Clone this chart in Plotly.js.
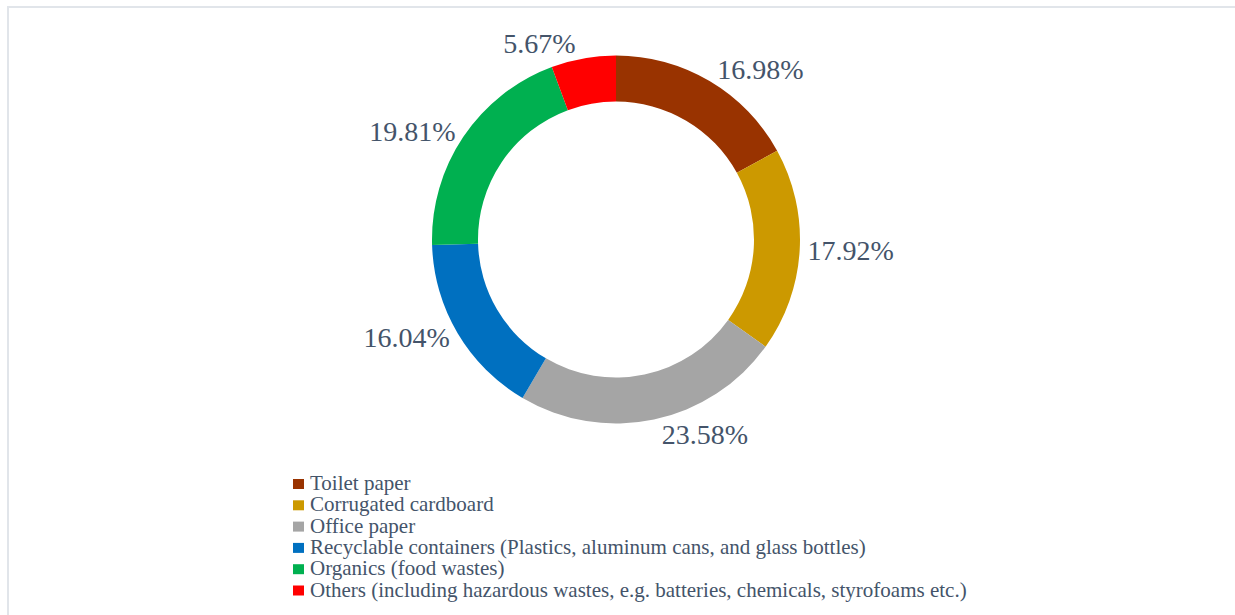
<!DOCTYPE html>
<html><head><meta charset="utf-8">
<script src="https://cdn.plot.ly/plotly-3.0.1.min.js"></script>
<style>
html,body{margin:0;padding:0;background:#fff;}
#chart{position:absolute;left:0;top:0;width:1235px;height:615px;}
#frame{position:absolute;left:7px;top:6px;width:1228px;height:609px;border-top:2px solid #E1E5EA;border-left:2px solid #E1E5EA;pointer-events:none;z-index:5;}
</style></head>
<body>
<div id="chart"></div><div id="frame"></div>
<script>
const categories = [
  "Toilet paper",
  "Corrugated cardboard",
  "Office paper",
  "Recyclable containers (Plastics, aluminum cans, and glass bottles)",
  "Organics (food wastes)",
  "Others (including hazardous wastes, e.g. batteries, chemicals, styrofoams etc.)"
];
const shares = [16.98, 17.92, 23.58, 16.04, 19.81, 5.67];
const sliceColors = ["#993300", "#CC9900", "#A5A5A5", "#0070C0", "#00B050", "#FF0000"];

const W = 1235, H = 615;
const FONT = '"Liberation Serif", "Times New Roman", serif';
const TXT = '#44546A';
const px = x => x / W;
const py = y => 1 - y / H;

const trace = {
  type: 'pie',
  labels: categories,
  values: shares,
  sort: false,
  direction: 'clockwise',
  rotation: 0,
  hole: 0.75,
  marker: {colors: sliceColors, line: {width: 0}},
  texttemplate: '%{value:.2f}%',
  textposition: 'outside',
  textfont: {family: FONT, size: 28, color: TXT},
  hoverinfo: 'none',
  showlegend: false,
  domain: {x: [px(432), px(800)], y: [py(423.5), py(55.5)]}
};

const annotations = [];
const shapes = [];
const legendTop = 484, rowGap = 21.3;
categories.forEach((c, i) => {
  const yc = legendTop + i * rowGap;
  shapes.push({type: 'rect', xref: 'paper', yref: 'paper',
    x0: px(293), x1: px(304), y0: py(yc + 5), y1: py(yc - 5),
    fillcolor: sliceColors[i], line: {width: 0}});
  annotations.push({xref: 'paper', yref: 'paper', x: px(308), y: py(yc - 1),
    xanchor: 'left', yanchor: 'middle', showarrow: false, text: c,
    font: {family: FONT, size: 21, color: TXT}});
});

const layout = {
  width: W, height: H,
  margin: {l: 0, r: 0, t: 0, b: 0},
  paper_bgcolor: '#ffffff',
  showlegend: false,
  annotations: annotations,
  shapes: shapes
};
Plotly.newPlot('chart', [trace], layout, {displayModeBar: false, staticPlot: true});
</script>
</body></html>
